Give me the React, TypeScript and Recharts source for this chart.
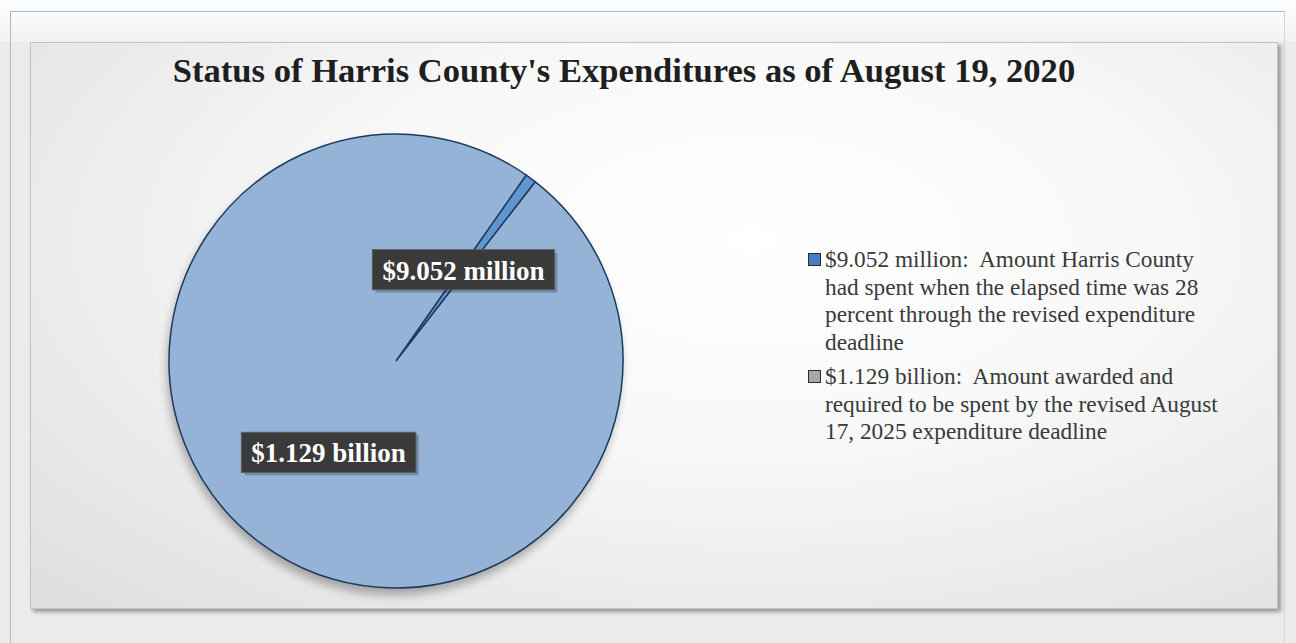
import { PieChart, Pie, Cell, Legend } from 'recharts';

const sliceNames = ['$9.052 million', '$1.129 billion'];
const sliceValues = [9.052, 1129];
// legend text, broken where the reference wraps it
const legendLines = [
  [
    '$9.052 million:  Amount Harris County',
    'had spent when the elapsed time was 28',
    'percent through the revised expenditure',
    'deadline',
  ],
  [
    '$1.129 billion:  Amount awarded and',
    'required to be spent by the revised August',
    '17, 2025 expenditure deadline',
  ],
];
const chartTitle = "Status of Harris County's Expenditures as of August 19, 2020";

const SLICE_COLORS = ['#5f96d0', '#95b3d7'];
const MARKER_COLORS = ['#3f7fc2', '#a6a6a6'];
const SERIF = '"Liberation Serif", "Times New Roman", serif';
const RAD = Math.PI / 180;
const PIE_CX = 396;
const PIE_CY = 361;
const PIE_R = 227;

const data = sliceNames.map((name, i) => ({ name, value: sliceValues[i] }));

let ctx: CanvasRenderingContext2D | null = null;
function textWidth(text: string, font: string) {
  if (!ctx) ctx = document.createElement('canvas').getContext('2d');
  if (!ctx) return text.length * 12;
  ctx.font = font;
  return ctx.measureText(text).width;
}

// Excel-style dark callout boxes, centred halfway along each slice
const renderLabel = (props: any) => {
  const { cx, cy, midAngle, outerRadius, index } = props;
  const r = outerRadius * 0.5;
  const x = cx + r * Math.cos(-midAngle * RAD);
  const y = cy + r * Math.sin(-midAngle * RAD);
  const text = sliceNames[index];
  const w = textWidth(text, `bold 27px ${SERIF}`) + 20;
  const h = 40;
  return (
    <g>
      <rect x={x - w / 2 + 3} y={y - h / 2 + 3} width={w} height={h} fill="rgba(0,0,0,0.22)" />
      <rect x={x - w / 2} y={y - h / 2} width={w} height={h} fill="#3a3a3a" stroke="#5a5a5a" strokeWidth={1} />
      <text
        x={x}
        y={y + 1}
        textAnchor="middle"
        dominantBaseline="central"
        fill="#ffffff"
        fontFamily={SERIF}
        fontWeight="bold"
        fontSize={27}
      >
        {text}
      </text>
    </g>
  );
};

const renderLegend = () => (
  <div style={{ fontFamily: SERIF, fontSize: 23.3, lineHeight: '27.5px', color: '#3a3a3a', whiteSpace: 'pre' }}>
    {legendLines.map((lines, i) => (
      <div key={i} style={{ position: 'relative', paddingLeft: 19, marginBottom: 7 }}>
        <span
          style={{
            position: 'absolute',
            left: 2,
            top: 7,
            width: 11,
            height: 11,
            background: MARKER_COLORS[i],
            border: '1.5px solid #2b2b2b',
          }}
        />
        {lines.map((l, j) => (
          <div key={j}>{l}</div>
        ))}
      </div>
    ))}
  </div>
);

export default function App() {
  return (
    <div style={{ position: 'absolute', left: 0, top: 0, width: 1296, height: 643, background: '#ebebeb', overflow: 'hidden' }}>
      <div
        style={{
          position: 'absolute',
          left: 0,
          top: 0,
          width: 1296,
          height: 42,
          background: 'linear-gradient(#ffffff, #f2f2f2)',
        }}
      />
      <div
        style={{
          position: 'absolute',
          left: 10,
          top: 11,
          width: 1273,
          height: 640,
          borderLeft: '1px solid #9ebcdb',
          borderTop: '1px solid #9ebcdb',
          borderRight: '1px solid #c9d6e3',
        }}
      />
      <div
        style={{
          position: 'absolute',
          left: 30,
          top: 42,
          width: 1246,
          height: 565,
          background: 'radial-gradient(ellipse at 58% 35%, #ffffff 0%, #f8f8f8 40%, #dedede 100%)',
          border: '1px solid #c4c4c4',
          boxShadow: '3px 3px 4px rgba(0,0,0,0.35)',
        }}
      />
      {/* soft shadow under the pie */}
      <div
        style={{
          position: 'absolute',
          left: PIE_CX - PIE_R,
          top: PIE_CY - PIE_R,
          width: PIE_R * 2,
          height: PIE_R * 2,
          borderRadius: '50%',
          boxShadow: '-2px 7px 10px rgba(0,0,0,0.3)',
        }}
      />
      <div
        style={{
          position: 'absolute',
          left: 0,
          width: 1248,
          top: 50,
          textAlign: 'center',
          fontFamily: SERIF,
          fontWeight: 'bold',
          fontSize: 34.6,
          lineHeight: '40px',
          color: '#1f1f1f',
          whiteSpace: 'nowrap',
        }}
      >
        {chartTitle}
      </div>
      <div style={{ position: 'absolute', left: 0, top: 0 }}>
        <PieChart width={1296} height={643} margin={{ top: 0, right: 0, bottom: 0, left: 0 }}>
          <Pie
            data={data}
            dataKey="value"
            nameKey="name"
            cx={PIE_CX}
            cy={PIE_CY}
            outerRadius={PIE_R}
            startAngle={55}
            endAngle={-305}
            stroke="#1c3a5e"
            strokeWidth={1.5}
            label={renderLabel}
            labelLine={false}
            isAnimationActive={false}
          >
            {data.map((_, i) => (
              <Cell key={`cell-${i}`} fill={SLICE_COLORS[i]} />
            ))}
          </Pie>
          <Legend
            layout="vertical"
            content={renderLegend}
            wrapperStyle={{ position: 'absolute', left: 806, top: 246, width: 440 }}
          />
        </PieChart>
      </div>
    </div>
  );
}
